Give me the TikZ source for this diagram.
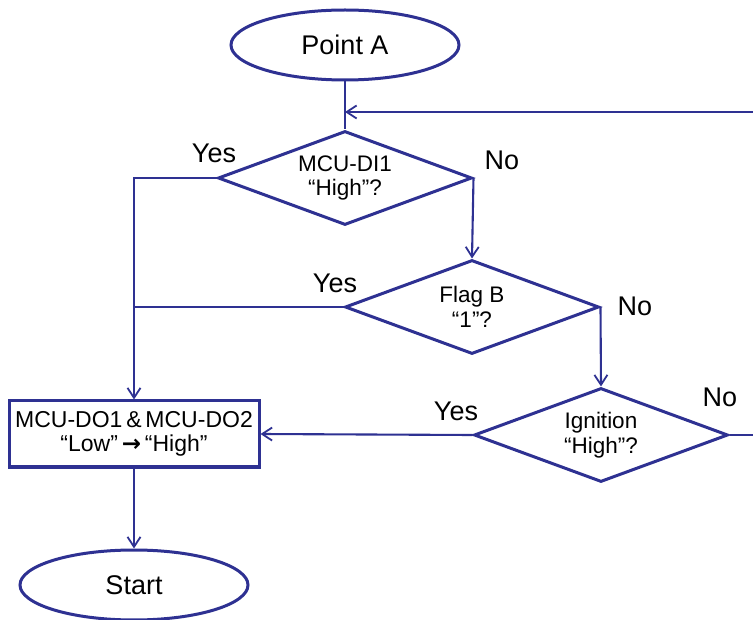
\documentclass[tikz,border=0pt]{standalone}
\usepackage{fontspec}
\setmainfont{Liberation Sans}
\newfontfamily\arrowfont{DejaVu Sans}
\usepackage{tikz}
\usetikzlibrary{arrows.meta,shapes.geometric,positioning}
\definecolor{fcNavy}{RGB}{46,49,146}
\definecolor{fcInk}{RGB}{0,0,0}
\tikzset{
  fcshape/.style={draw=fcNavy,line width=3pt,text=fcInk,inner sep=0pt,align=center},
  fcterm/.style={fcshape,ellipse,minimum width=228pt,minimum height=70pt,font=\fontsize{27}{30}\selectfont},
  fcdecide/.style={fcshape,diamond,aspect=2.7,minimum width=254pt,minimum height=94pt,font=\fontsize{22.5}{24.5}\selectfont},
  fcbox/.style={fcshape,rectangle,minimum width=250pt,minimum height=66pt,font=\fontsize{23}{24}\selectfont},
  fcline/.style={draw=fcNavy,line width=2.1pt},
  fcarrow/.style={fcline,-{Straight Barb[length=10pt,width=13pt,line width=1.8pt]}},
  fclabel/.style={text=fcInk,font=\fontsize{27}{30}\selectfont,inner sep=0pt}
}

\begin{document}
\begin{tikzpicture}[x=1pt,y=-1pt]
  \useasboundingbox (0,0) rectangle (753,620);
  % terminals and steps
  \node[fcterm] (pointa) at (345,45) {Point A};
  \node[fcdecide] (dione) at (345,178) {MCU-DI1\\“High”?};
  \node[fcdecide] (flagb) at (472,307) {Flag B\\“1”?};
  \node[fcdecide] (ign) at (601,435) {Ignition\\“High”?};
  \node[fcbox] (dout) at (134,434) {MCU-DO1\,\&\,MCU-DO2\\“Low”\,{\arrowfont\bfseries →}\,“High”};
  \node[fcterm] (start) at (134,585) {Start};
  % loose ends at the right border
  \coordinate (loopin) at (753,112);
  \coordinate (noout) at (753,435);
  % answers
  \node[fclabel] (yesone) at (214,153) {Yes};
  \node[fclabel] (noone) at (502,160) {No};
  \node[fclabel] (yestwo) at (335,283) {Yes};
  \node[fclabel] (notwo) at (635,306) {No};
  \node[fclabel] (yesthree) at (456,411) {Yes};
  \node[fclabel] (nothree) at (720,397) {No};
  % connectors
  \draw[fcline] (pointa.south) -- (dione.north);
  \draw[fcarrow] (loopin) -- (loopin -| pointa.south);
  \draw[fcarrow] (dione.west) -| (dout.north);
  \draw[fcline] (flagb.west) -- (flagb.west -| dout.north);
  \draw[fcarrow] (dione.east) -- (flagb.north);
  \draw[fcarrow] (flagb.east) -- (ign.north);
  \draw[fcarrow] (ign.west) -- (dout.east);
  \draw[fcline] (ign.east) -- (noout);
  \draw[fcarrow] (dout.south) -- (start.north);
\end{tikzpicture}
\end{document}
